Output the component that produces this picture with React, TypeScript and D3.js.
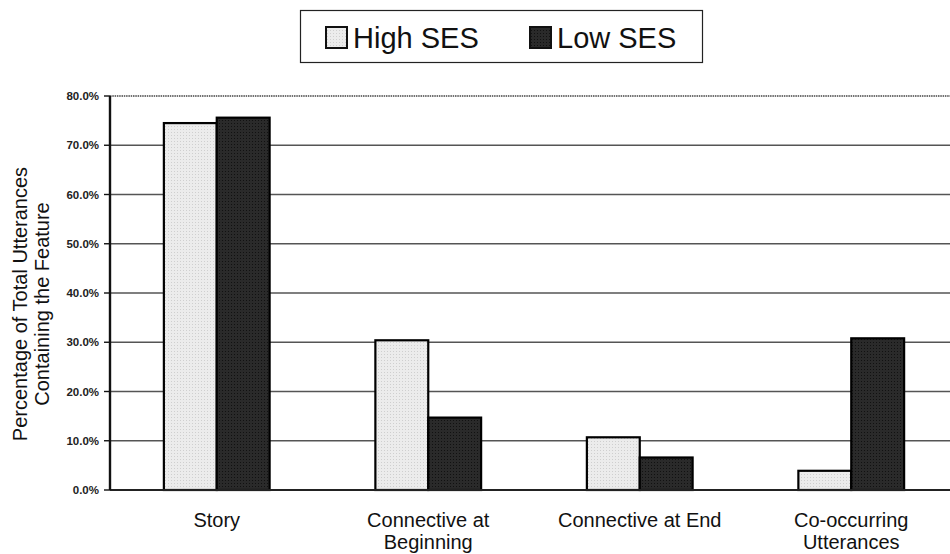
import React from "react";
import * as d3 from "d3";

const categories = [["Story"], ["Connective at", "Beginning"], ["Connective at End"], ["Co-occurring", "Utterances"]];
const seriesNames = ["High SES", "Low SES"];
const highSES = [0.745, 0.304, 0.107, 0.039];
const lowSES = [0.756, 0.147, 0.066, 0.308];
const yTicks = [0, 0.1, 0.2, 0.3, 0.4, 0.5, 0.6, 0.7, 0.8];

const W = 950;
const H = 554;
const left = 110;
const right = 957;
const top = 96;
const bottom = 490;
const font = "'Liberation Sans', Arial, Helvetica, sans-serif";

export default function App() {
  const x = d3.scaleBand<number>().domain(d3.range(categories.length)).range([111, right]).paddingInner(0.5).paddingOuter(0.25);
  const xs = d3.scaleBand<number>().domain([0, 1]).range([0, x.bandwidth()]);
  const y = d3.scaleLinear().domain([0, 0.8]).range([bottom, top]);
  const fmt = d3.format(".1%");
  const series = [highSES, lowSES];

  return (
    <div style={{ position: "absolute", left: 0, top: 0 }}>
      <svg width={W} height={H} style={{ display: "block", background: "#fff" }} fontFamily={font}>
        <defs>
          <pattern id="lightDots" width="3" height="3" patternUnits="userSpaceOnUse">
            <rect width="3" height="3" fill="#ececec" />
            <rect width="1" height="1" fill="#cfcfcf" />
          </pattern>
          <pattern id="darkDots" width="3" height="3" patternUnits="userSpaceOnUse">
            <rect width="3" height="3" fill="#2a2a2a" />
            <rect width="1" height="1" fill="#111" />
          </pattern>
        </defs>
        {/* legend */}
        <rect x={300.5} y={10.5} width={402} height={52} fill="#fff" stroke="#222" strokeWidth={1.2} />
        {seriesNames.map((n, i) => {
          const lx = i === 0 ? 326 : 530;
          return (
            <g key={n}>
              <rect x={lx} y={27} width={21} height={21} fill={i === 0 ? "url(#lightDots)" : "url(#darkDots)"} stroke="#111" strokeWidth={2} />
              <text x={lx + 27} y={48} fontSize={29} fill="#111">{n}</text>
            </g>
          );
        })}
        {/* gridlines */}
        {yTicks.filter((t) => t > 0 && t < 0.8).map((t) => (
          <line key={t} x1={left} x2={W} y1={y(t)} y2={y(t)} stroke="#555" strokeWidth={1.4} />
        ))}
        <line x1={left} x2={W} y1={y(0.8)} y2={y(0.8)} stroke="#444" strokeWidth={1.6} strokeDasharray="1.5,0.8" />
        {/* bars */}
        {series.map((s, si) =>
          s.map((v, ci) => (
            <rect
              key={`${si}-${ci}`}
              x={(x(ci) as number) + (xs(si) as number)}
              y={y(v)}
              width={xs.bandwidth()}
              height={y(0) - y(v)}
              fill={si === 0 ? "url(#lightDots)" : "url(#darkDots)"}
              stroke="#000"
              strokeWidth={2.2}
            />
          ))
        )}
        {/* axes */}
        <line x1={left} x2={W} y1={bottom} y2={bottom} stroke="#222" strokeWidth={2} />
        <line x1={left} x2={left} y1={top} y2={bottom} stroke="#111" strokeWidth={2.4} />
        {yTicks.map((t) => (
          <g key={t}>
            <line x1={left - 6} x2={left} y1={y(t)} y2={y(t)} stroke="#111" strokeWidth={1.4} />
            <text x={left - 11} y={y(t) + 4} fontSize={11.5} fontWeight="bold" textAnchor="end" fill="#222">{fmt(t)}</text>
          </g>
        ))}
        {/* category labels */}
        {categories.map((lines, ci) => (
          <text key={ci} x={(x(ci) as number) + x.bandwidth() / 2} y={527} fontSize={20} textAnchor="middle" fill="#111">
            {lines.map((l, li) => (
              <tspan key={li} x={(x(ci) as number) + x.bandwidth() / 2} dy={li === 0 ? 0 : 22}>{l}</tspan>
            ))}
          </text>
        ))}
        {/* y title */}
        <text transform={`translate(27,304) rotate(-90)`} fontSize={20} textAnchor="middle" fill="#111">
          <tspan x={0} dy={0}>Percentage of Total Utterances</tspan>
          <tspan x={0} dy={22}>Containing the Feature</tspan>
        </text>
      </svg>
    </div>
  );
}
